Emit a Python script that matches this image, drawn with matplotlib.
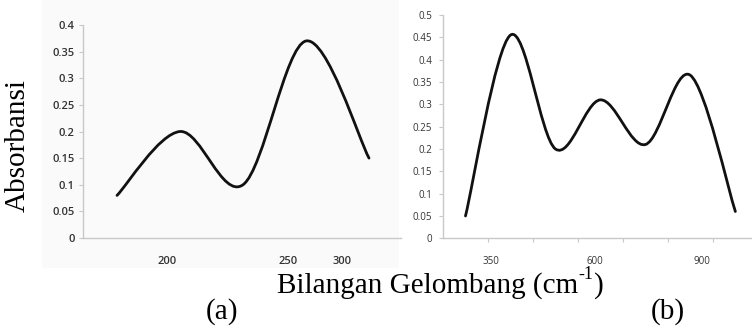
import numpy as np
import matplotlib.pyplot as plt
from matplotlib.path import Path
from matplotlib.patches import PathPatch, Rectangle

# panel (a): absorbance at five evenly spaced categories
abs_a = [0.08, 0.20, 0.10, 0.37, 0.15]
xtick_labels_a = ["200", "250", "300"]
xtick_pos_a = [0.80, 2.71, 3.57]
ytick_a = [0, 0.05, 0.1, 0.15, 0.2, 0.25, 0.3, 0.35, 0.4]
ytick_labels_a = ["0", "0.05", "0.1", "0.15", "0.2", "0.25", "0.3", "0.35", "0.4"]

# panel (b): absorbance at seven evenly spaced categories
abs_b = [0.05, 0.455, 0.20, 0.31, 0.21, 0.365, 0.06]
xtick_labels_b = ["350", "600", "900"]
xtick_pos_b = [0.57, 2.88, 5.26]
ytick_b = [0, 0.05, 0.1, 0.15, 0.2, 0.25, 0.3, 0.35, 0.4, 0.45, 0.5]
ytick_labels_b = ["0", "0.05", "0.1", "0.15", "0.2", "0.25", "0.3", "0.35", "0.4", "0.45", "0.5"]


def smooth_path(ys, k=1.0 / 6):
    """Spreadsheet-style smoothed line: Bezier segments through every point."""
    pts = np.column_stack([np.arange(len(ys)), ys]).astype(float)
    n = len(pts)
    verts = [pts[0]]
    codes = [Path.MOVETO]
    for i in range(n - 1):
        p0 = pts[i - 1] if i > 0 else pts[i]
        p1 = pts[i]
        p2 = pts[i + 1]
        p3 = pts[i + 2] if i + 2 < n else pts[i + 1]
        verts += [p1 + (p2 - p0) * k, p2 - (p3 - p1) * k, p2]
        codes += [Path.CURVE4] * 3
    return Path(verts, codes)


def style_axis(ax, size, weight, pad_y):
    for side in ("top", "right"):
        ax.spines[side].set_visible(False)
    for side in ("left", "bottom"):
        ax.spines[side].set_color("#c8c8c8")
        ax.spines[side].set_linewidth(1.0)
    ax.tick_params(axis="y", which="major", length=3, width=0.8, color="#c8c8c8",
                   labelsize=size, labelcolor="#333333", pad=pad_y)
    ax.tick_params(axis="x", which="major", length=0, labelsize=size,
                   labelcolor="#333333", pad=13)
    for lab in ax.get_xticklabels() + ax.get_yticklabels():
        lab.set_fontfamily("Open Sans")
        lab.set_fontweight(weight)


fig = plt.figure(figsize=(7.52, 3.31), dpi=100)

# faint grey of the scanned left chart
fig.patches.append(Rectangle((42 / 752, 1 - 268 / 331), 357 / 752, 268 / 331,
                             transform=fig.transFigure, facecolor="#fafafa",
                             edgecolor="none", zorder=-1))

ax_a = fig.add_axes([83 / 752, 1 - 238 / 331, 317.5 / 752, 213 / 331])
ax_a.set_facecolor("none")
ax_a.add_patch(PathPatch(smooth_path(abs_a), fill=False,
                         edgecolor="#111111", linewidth=2.0, capstyle="round"))
ax_a.set_xlim(-0.54, 4.5)
ax_a.set_ylim(0, 0.4)
ax_a.set_yticks(ytick_a)
ax_a.set_yticklabels(ytick_labels_a)
ax_a.set_xticks(xtick_pos_a)
ax_a.set_xticklabels(xtick_labels_a)
style_axis(ax_a, 8, "semibold", 3)

ax_b = fig.add_axes([443 / 752, 1 - 238.3 / 331, 309 / 752, 223.3 / 331])
ax_b.set_facecolor("white")
ax_b.add_patch(PathPatch(smooth_path(abs_b), fill=False,
                         edgecolor="#111111", linewidth=2.0, capstyle="round"))
ax_b.set_xlim(-0.5, 6.37)
ax_b.set_ylim(0, 0.5)
ax_b.set_yticks(ytick_b)
ax_b.set_yticklabels(ytick_labels_b)
ax_b.set_xticks(xtick_pos_b)
ax_b.set_xticklabels(xtick_labels_b)
# category boundaries
ax_b.set_xticks(np.arange(0.5, 6.0, 1.0), minor=True)
ax_b.tick_params(axis="x", which="minor", length=3, width=0.8, color="#c8c8c8")
style_axis(ax_b, 7, "normal", 5)

serif = ["Liberation Serif", "DejaVu Serif"]
fig.text(18 / 752, 1 - 145 / 331, "Absorbansi", rotation=90, ha="center",
         va="center", fontsize=21, family=serif)

# x title built in pieces so the superscript keeps a plain hyphen
renderer = fig.canvas.get_renderer()
base = fig.text(277 / 752, 1 - 293 / 331, "Bilangan Gelombang (cm", ha="left",
                va="baseline", fontsize=21, family=serif)
bb = base.get_window_extent(renderer)
sup = fig.text(bb.x1 / 752 + 0.5 / 752, 1 - 279 / 331, "-1", ha="left",
               va="baseline", fontsize=13, family=serif)
sb = sup.get_window_extent(renderer)
fig.text(sb.x1 / 752, 1 - 293 / 331, ")", ha="left", va="baseline",
         fontsize=21, family=serif)

fig.text(222 / 752, 1 - 312 / 331, "(a)", ha="center", va="center",
         fontsize=21, family=serif)
fig.text(668 / 752, 1 - 312 / 331, "(b)", ha="center", va="center",
         fontsize=21, family=serif)

fig.savefig("out.png", dpi=100)
